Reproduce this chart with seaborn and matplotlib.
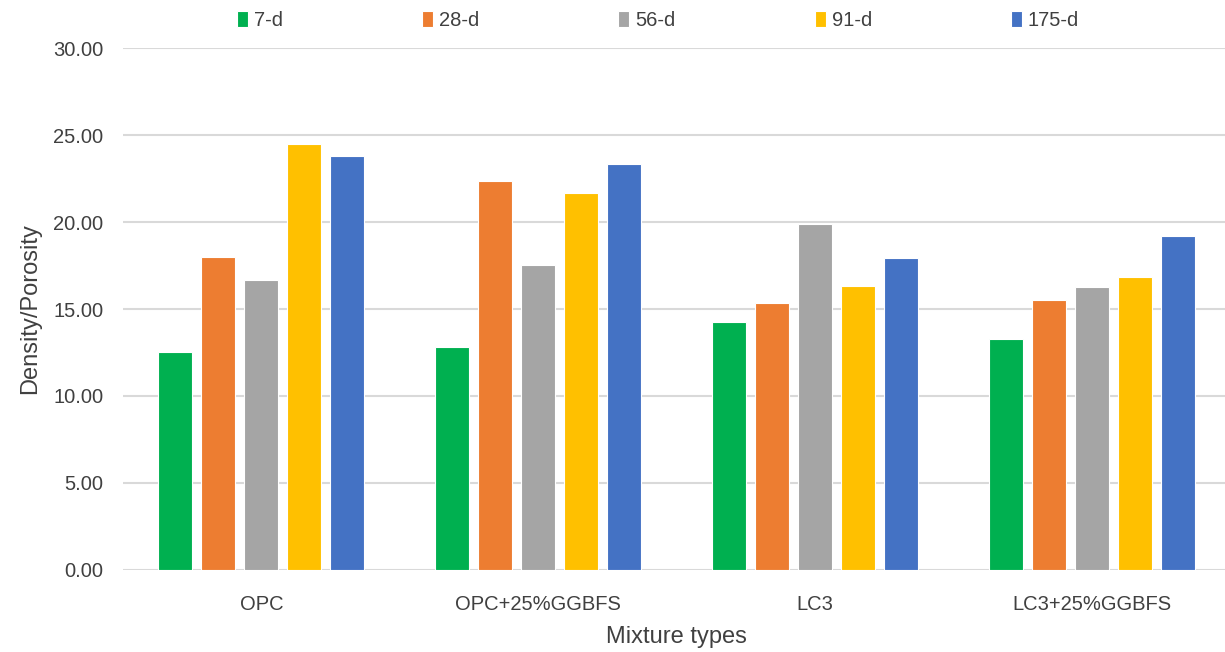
import numpy as np
import pandas as pd
import matplotlib
matplotlib.use("Agg")
import matplotlib.pyplot as plt
import seaborn as sns

# Mixture categories and curing ages
mixtures = ["OPC", "OPC+25%GGBFS", "LC3", "LC3+25%GGBFS"]
ages = ["7-d", "28-d", "56-d", "91-d", "175-d"]

# Density/porosity values for each age, listed per mixture
d7 = [12.53, 12.82, 14.27, 13.26]
d28 = [17.99, 22.36, 15.36, 15.50]
d56 = [16.67, 17.55, 19.89, 16.25]
d91 = [24.47, 21.65, 16.30, 16.82]
d175 = [23.83, 23.32, 17.91, 19.18]

colors = ["#00B050", "#ED7D31", "#A5A5A5", "#FFC000", "#4472C4"]

rows = []
for age, vals in zip(ages, [d7, d28, d56, d91, d175]):
    for mix, v in zip(mixtures, vals):
        rows.append({"Mixture": mix, "Age": age, "Value": v})
df = pd.DataFrame(rows)

sns.set_theme(style="white")
plt.rcParams["font.family"] = ["Liberation Sans", "DejaVu Sans"]

fig = plt.figure(figsize=(12.25, 6.52), dpi=100)
# plot area runs slightly past the right edge of the canvas
ax = fig.add_axes([123 / 1225, 0.126, 1107 / 1225, 0.80])

sns.barplot(data=df, x="Mixture", y="Value", hue="Age", order=mixtures,
            hue_order=ages, palette=colors, width=0.777, gap=0.21,
            saturation=1, edgecolor="white", linewidth=0.8, ax=ax,
            errorbar=None, zorder=3)

ax.set_xlim(-0.5, 3.5)
ax.set_ylim(0, 30)
ax.set_yticks(np.arange(0, 30.1, 5))
ax.set_yticklabels([f"{t:.2f}" for t in np.arange(0, 30.1, 5)])
ax.yaxis.grid(True, color="#D9D9D9", linewidth=1.5, zorder=0)
ax.set_axisbelow(True)
for s in ax.spines.values():
    s.set_visible(False)
ax.tick_params(axis="both", length=0, labelsize=14.5, colors="#404040")
ax.tick_params(axis="y", pad=14)
ax.tick_params(axis="x", pad=18)

ax.set_xlabel("Mixture types", fontsize=17, color="#404040", labelpad=9)
ax.set_ylabel("Density/Porosity", fontsize=17, color="#404040", labelpad=9)

handles, labels = ax.get_legend_handles_labels()
ax.legend(handles, labels, loc="lower center",
          bbox_to_anchor=((658 - 123) / 1107, 1.0),
          ncol=5, frameon=False, fontsize=14.5, handlelength=0.55,
          handleheight=0.8, handletextpad=0.3, columnspacing=6.9,
          labelcolor="#404040")

fig.savefig("out.png", dpi=100)
